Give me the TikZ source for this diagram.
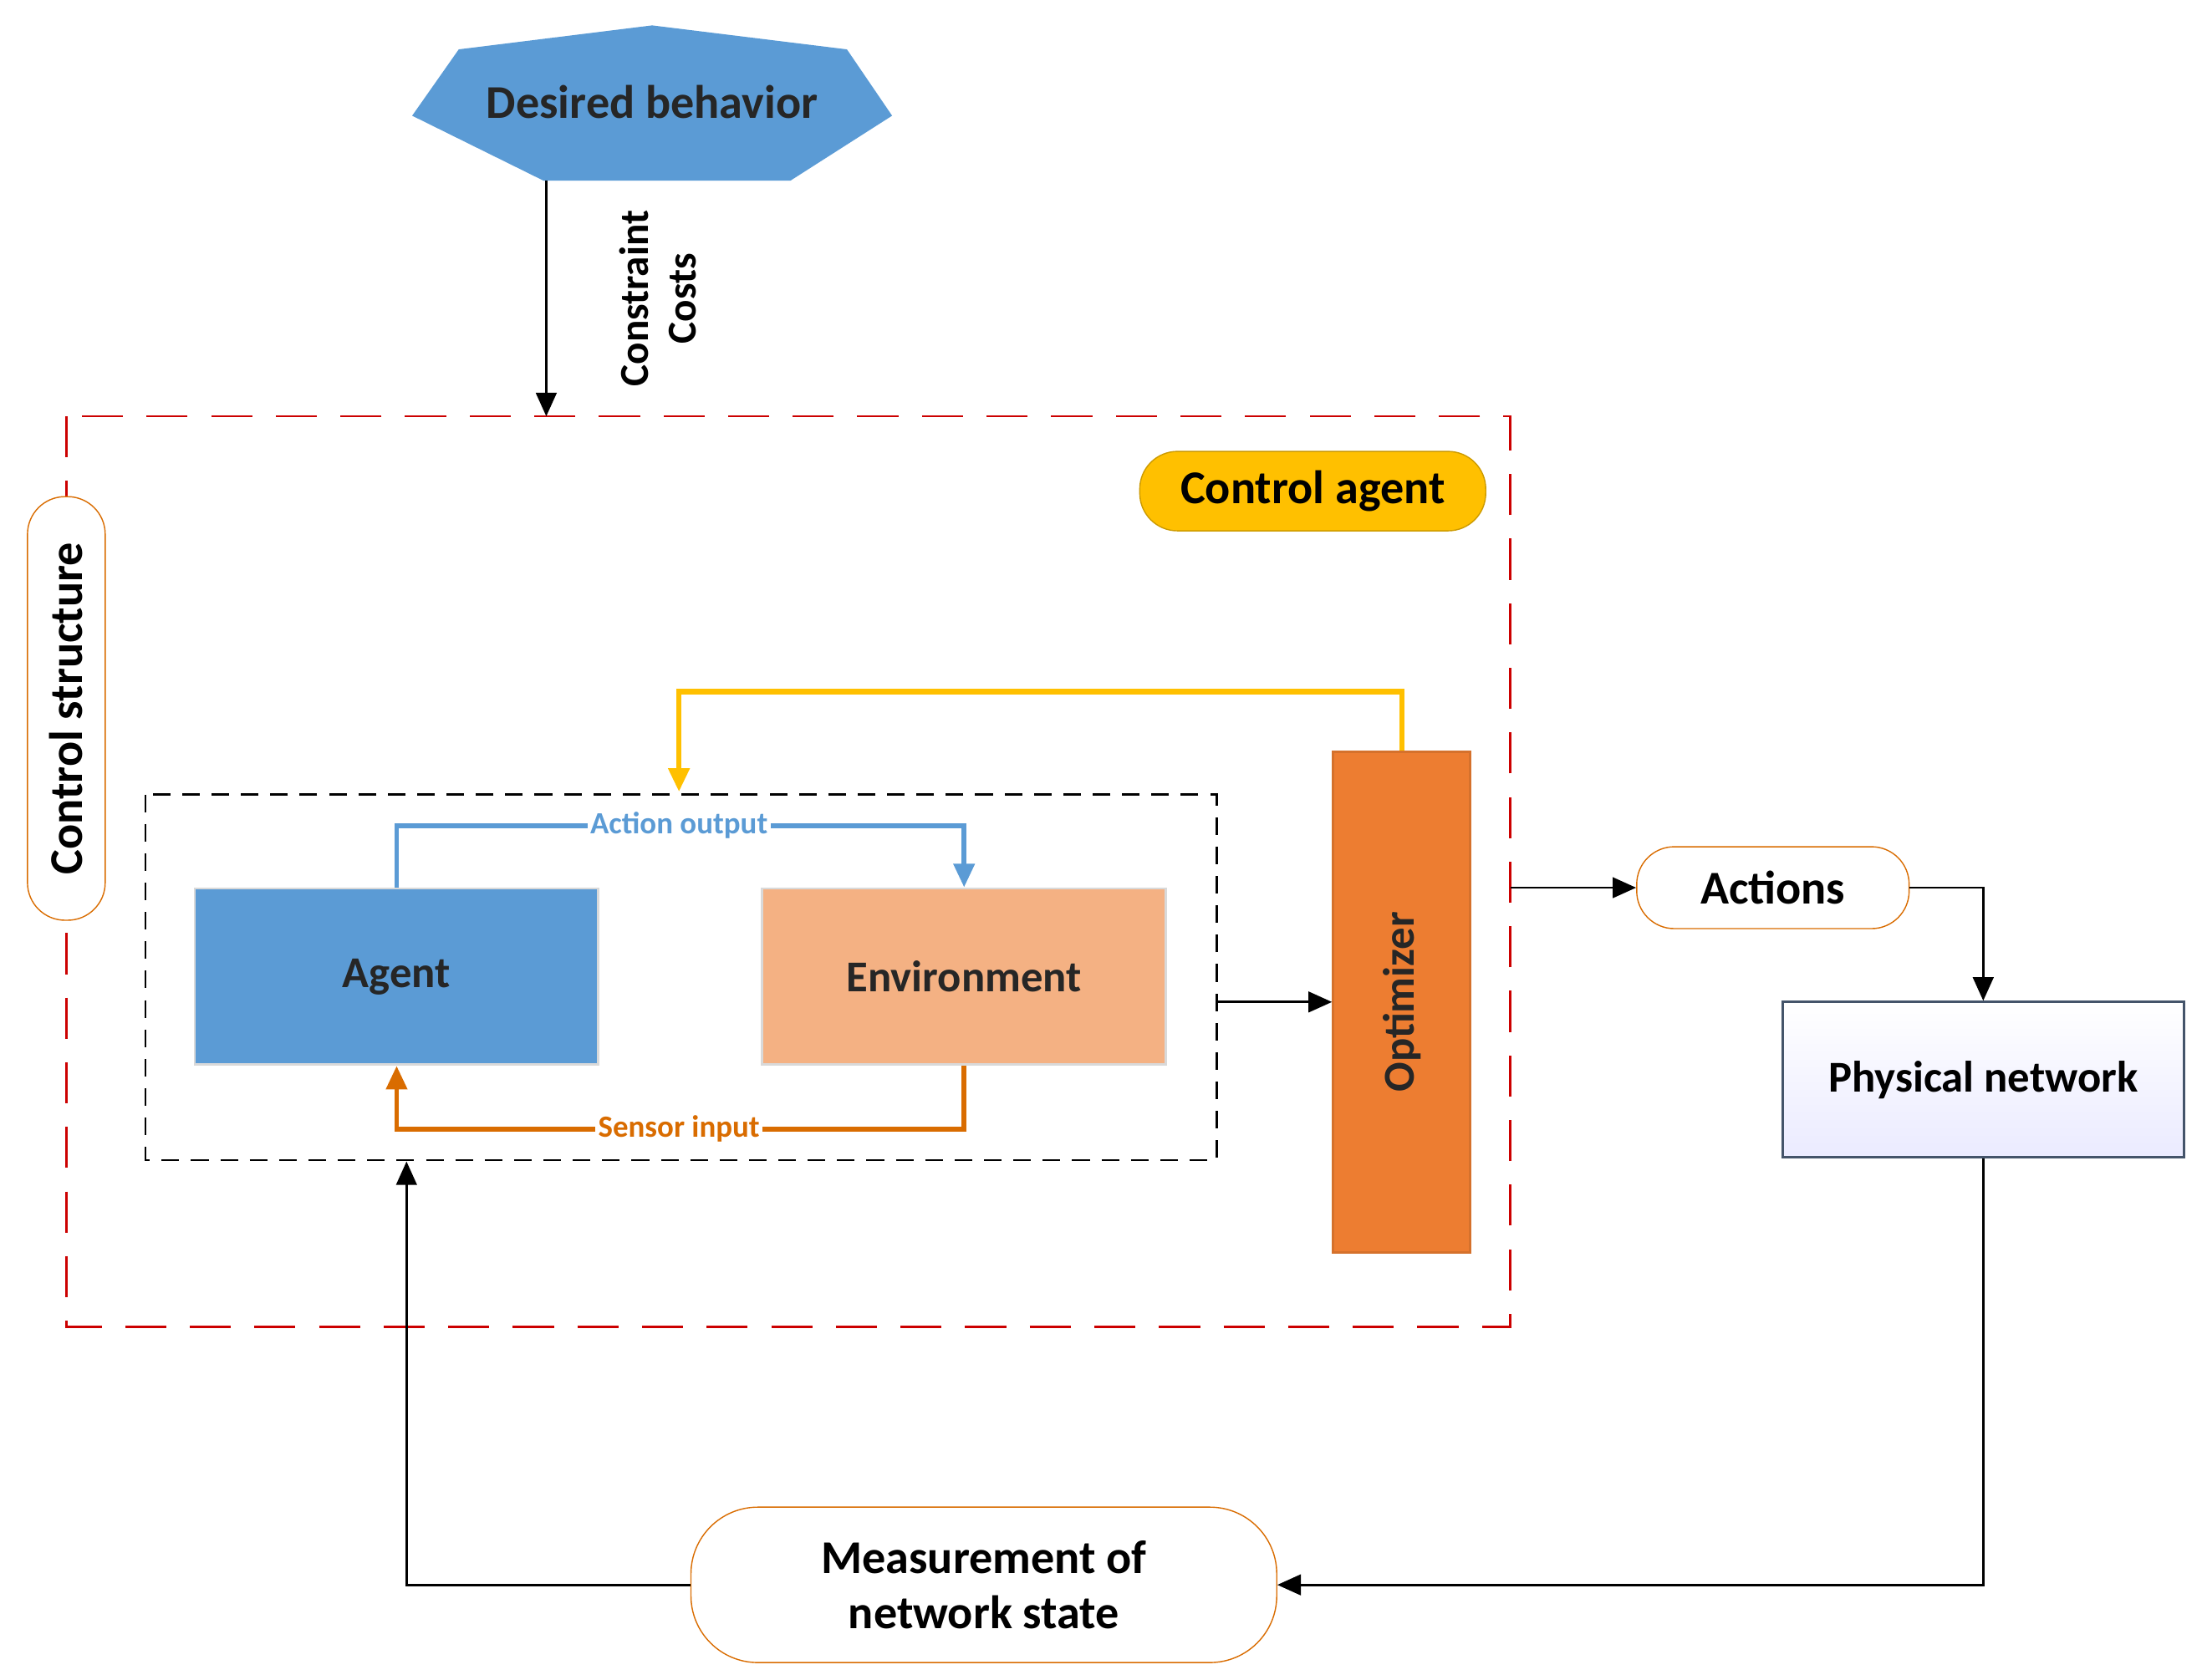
\documentclass[tikz,border=0pt]{standalone}
\usepackage{fontspec}
\setmainfont{Carlito}
\usetikzlibrary{arrows.meta, shadows}
\definecolor{blueF}{HTML}{5B9BD5}
\definecolor{peach}{HTML}{F4B183}
\definecolor{orangeF}{HTML}{ED7D31}
\definecolor{goldF}{HTML}{FFC000}
\definecolor{slateB}{HTML}{44546A}
\begin{document}
\begin{tikzpicture}[x=0.016885cm, y=-0.016885cm, font=\bfseries]
    % Define the styles
    \tikzstyle{box} = [draw=white!85!black, thick, text=black!85, font=\fontsize{15}{18}\selectfont\bfseries, minimum width=4.83cm, minimum height=2.11cm]
    \tikzstyle{pill} = [draw=orange!85!black, rounded corners=0.45cm, fill=white, font=\fontsize{16}{19}\selectfont\bfseries, align=center]
    \tikzstyle{line} = [draw, -{Triangle[length=8pt,width=7pt]}, thick]
    \tikzstyle{lbl} = [font=\fontsize{10.5}{12}\selectfont\bfseries, fill=white, inner sep=1pt]
    \useasboundingbox (0,0) rectangle (1560,1190);

    % Frames
    \draw[red!80!black, thick, dash pattern=on 14pt off 8pt] (47,295) rectangle (1070,940);
    \draw[thick, dash pattern=on 6pt off 4pt] (103,563) rectangle (862,822);

    % Place the nodes
    \fill[blueF] (325,35) -- (462,18) -- (600,35) -- (632,82) -- (560,128) -- (385,128) -- (292,82) -- cycle;
    \node[font=\fontsize{16}{19}\selectfont\bfseries, text=black!85] (desired) at (462,72) {Desired behavior};
    \coordinate (top) at (387,128);
    \coordinate (frametop) at (387,295);
    \node[pill, rotate=90, minimum width=5.07cm, minimum height=0.93cm] (structure) at (47,502) {Control structure};
    \node[pill, draw=goldF!80!black, fill=goldF, minimum width=4.14cm, minimum height=0.95cm] (cagent) at (930,348) {Control agent};
    \node[box, fill=blueF] (agent) at (281,692) {Agent};
    \node[box, fill=peach] (env) at (683,692) {Environment};
    \node[box, fill=orangeF, draw=orangeF!90!black, minimum width=1.64cm, minimum height=5.99cm] (opt) at (993,710) {};
    \node[rotate=90, font=\fontsize{15}{18}\selectfont\bfseries, text=black!85] (optlabel) at (opt) {Optimizer};
    \node[pill, minimum width=3.26cm, minimum height=0.98cm] (actions) at (1256,629) {Actions};
    \node[draw=slateB, thick, top color=white, bottom color=blue!8!white, font=\fontsize{15}{18}\selectfont\bfseries, minimum width=4.8cm, minimum height=1.86cm] (phys) at (1405,765) {Physical network};
    \node[pill, rounded corners=0.8cm, minimum width=7.01cm, minimum height=1.86cm] (meas) at (697,1123) {Measurement of\\network state};

    % Connect the nodes with paths
    \path[line] (top) -- node[pos=0.5, right=38pt, rotate=90, anchor=center, font=\fontsize{14}{16}\selectfont\bfseries, align=center] {Constraint\\Costs} (frametop);
    \path[line, blueF, line width=1.6pt] (agent.north) |- (481,585) -| (env.north);
    \node[lbl, text=blueF] (actout) at (481,585) {Action output};
    \path[line, orange!85!black, line width=1.6pt] (env.south) |- (481,800) -| (agent.south);
    \node[lbl, text=orange!85!black] (sensin) at (481,800) {Sensor input};
    \path[line, goldF, line width=1.8pt] (opt.north) |- (481,490) -- (481,561);
    \path[line] (862,710) -- (opt.west);
    \path[line] (1070,629) -- (actions.west);
    \path[line] (actions.east) -| (phys.north);
    \path[line] (phys.south) |- (meas.east);
    \path[line] (meas.west) -| (288,823);
\end{tikzpicture}
\end{document}
